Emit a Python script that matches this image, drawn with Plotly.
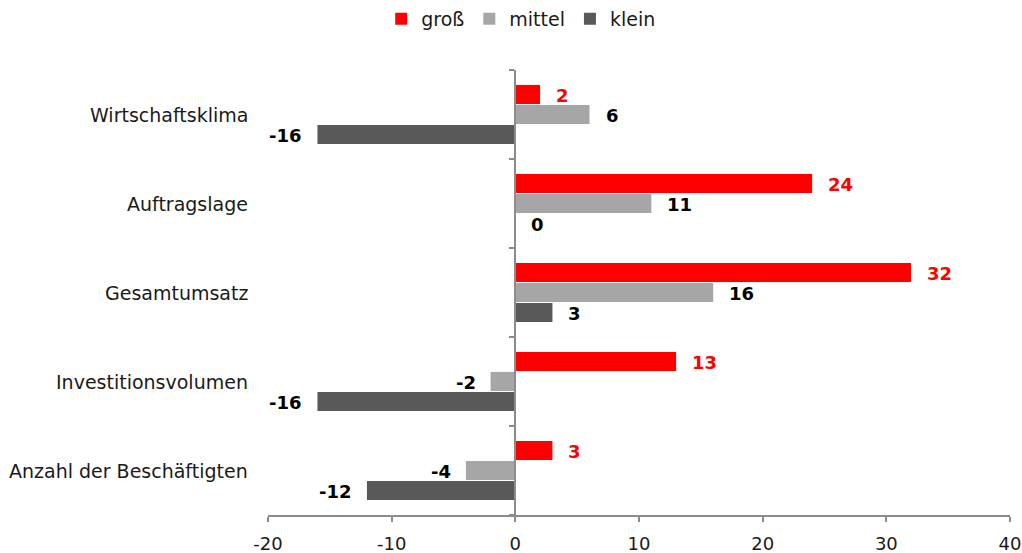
import plotly.graph_objects as go

# Survey balances by company size
categories = ["Wirtschaftsklima", "Auftragslage", "Gesamtumsatz",
              "Investitionsvolumen", "Anzahl der Beschäftigten"]
series_names = ["groß", "mittel", "klein"]
gross = [2, 24, 32, 13, 3]
mittel = [6, 11, 16, -2, -4]
klein = [-16, 0, 3, -16, -12]
x_ticks = [-20, -10, 0, 10, 20, 30, 40]

values = [gross, mittel, klein]
colors = ["#FF0000", "#A6A6A6", "#595959"]
label_colors = ["#FF0000", "#000000", "#000000"]
offsets = [-0.225, 0.0, 0.225]
bar_w = 0.215

FONT = "DejaVu Sans"

fig = go.Figure()
pos = list(range(len(categories)))

annotations = []
for name, vals, col, lcol, off in zip(series_names, values, colors, label_colors, offsets):
    ys = [p + off for p in pos]
    fig.add_trace(go.Bar(
        name=name, x=vals, y=ys, orientation="h",
        width=bar_w, marker=dict(color=col, line=dict(width=0)),
        hoverinfo="x+name",
    ))
    for v, y in zip(vals, ys):
        annotations.append(dict(
            x=v, y=y, xref="x", yref="y", text=f"<b>{v}</b>",
            showarrow=False, xanchor="left" if v >= 0 else "right",
            xshift=14 if v >= 0 else -13, yshift=-1,
            font=dict(family=FONT, size=18, color=lcol),
        ))

# category names on the left edge of the plot area
for p, c in zip(pos, categories):
    annotations.append(dict(
        x=0, y=p, xref="paper", yref="y", text=c, showarrow=False,
        xanchor="right", xshift=-18,
        font=dict(family=FONT, size=19, color="#1a1a1a"),
    ))

fig.update_layout(
    width=1022, height=553,
    margin=dict(l=268, r=12, t=70, b=38),
    paper_bgcolor="white", plot_bgcolor="white",
    barmode="overlay",
    font=dict(family=FONT, size=19, color="#1a1a1a"),
    showlegend=True,
    legend=dict(orientation="h", xref="container", x=0.51, xanchor="center",
                yref="container", y=1.0, yanchor="top",
                font=dict(family=FONT, size=19, color="#1a1a1a"),
                itemwidth=30, tracegroupgap=0),
    annotations=annotations,
    xaxis=dict(range=[-20, 40], tickvals=x_ticks, ticktext=[str(t) for t in x_ticks],
               showgrid=False, zeroline=False, automargin=False,
               showline=True, linecolor="#8c8c8c", linewidth=2,
               ticks="outside", ticklen=5, tickcolor="#8c8c8c", tickwidth=2,
               ticklabelstandoff=6,
               tickfont=dict(family=FONT, size=18, color="#1a1a1a")),
    yaxis=dict(range=[4.5, -0.5], anchor="free", position=1 / 3, automargin=False,
               tickvals=[i - 0.5 for i in range(len(categories) + 1)],
               ticktext=[""] * (len(categories) + 1),
               showgrid=False, zeroline=False, showline=True,
               linecolor="#8c8c8c", linewidth=2,
               ticks="outside", ticklen=5, tickcolor="#8c8c8c", tickwidth=2),
)

fig.write_html("out.html")
